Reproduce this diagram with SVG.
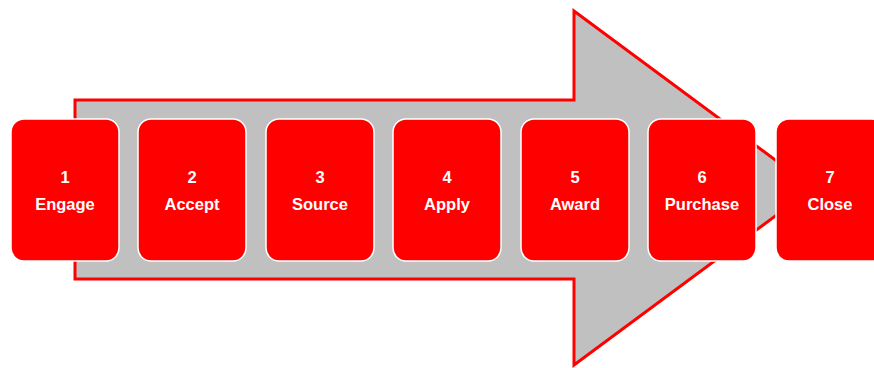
<svg xmlns="http://www.w3.org/2000/svg" width="874" height="368" viewBox="0 0 874 368">
<style>
.box{fill:#FF0000;stroke:#FFFFFF;stroke-width:1.5}
.t{font-family:"Liberation Sans",Arial,sans-serif;font-weight:bold;font-size:16.5px;fill:#FFFFFF;text-anchor:middle}
</style>
<rect width="874" height="368" fill="#FFFFFF"/>
<g id="connectors">
<path d="M75,100 L574,100 L574,11 L813,188 L574,365 L574,279 L75,279 Z" fill="#C0C0C0" stroke="#FF0000" stroke-width="3" stroke-linejoin="miter"/>
</g>
<g id="n1"><rect class="box" x="11" y="119" width="108" height="142" rx="13"/><text class="t" x="65" y="183">1</text><text class="t" x="65" y="210">Engage</text></g>
<g id="n2"><rect class="box" x="138" y="119" width="108" height="142" rx="13"/><text class="t" x="192" y="183">2</text><text class="t" x="192" y="210">Accept</text></g>
<g id="n3"><rect class="box" x="266" y="119" width="108" height="142" rx="13"/><text class="t" x="320" y="183">3</text><text class="t" x="320" y="210">Source</text></g>
<g id="n4"><rect class="box" x="393" y="119" width="108" height="142" rx="13"/><text class="t" x="447" y="183">4</text><text class="t" x="447" y="210">Apply</text></g>
<g id="n5"><rect class="box" x="521" y="119" width="108" height="142" rx="13"/><text class="t" x="575" y="183">5</text><text class="t" x="575" y="210">Award</text></g>
<g id="n6"><rect class="box" x="648" y="119" width="108" height="142" rx="13"/><text class="t" x="702" y="183">6</text><text class="t" x="702" y="210">Purchase</text></g>
<g id="n7"><rect class="box" x="776" y="119" width="108" height="142" rx="13"/><text class="t" x="830" y="183">7</text><text class="t" x="830" y="210">Close</text></g>
</svg>
